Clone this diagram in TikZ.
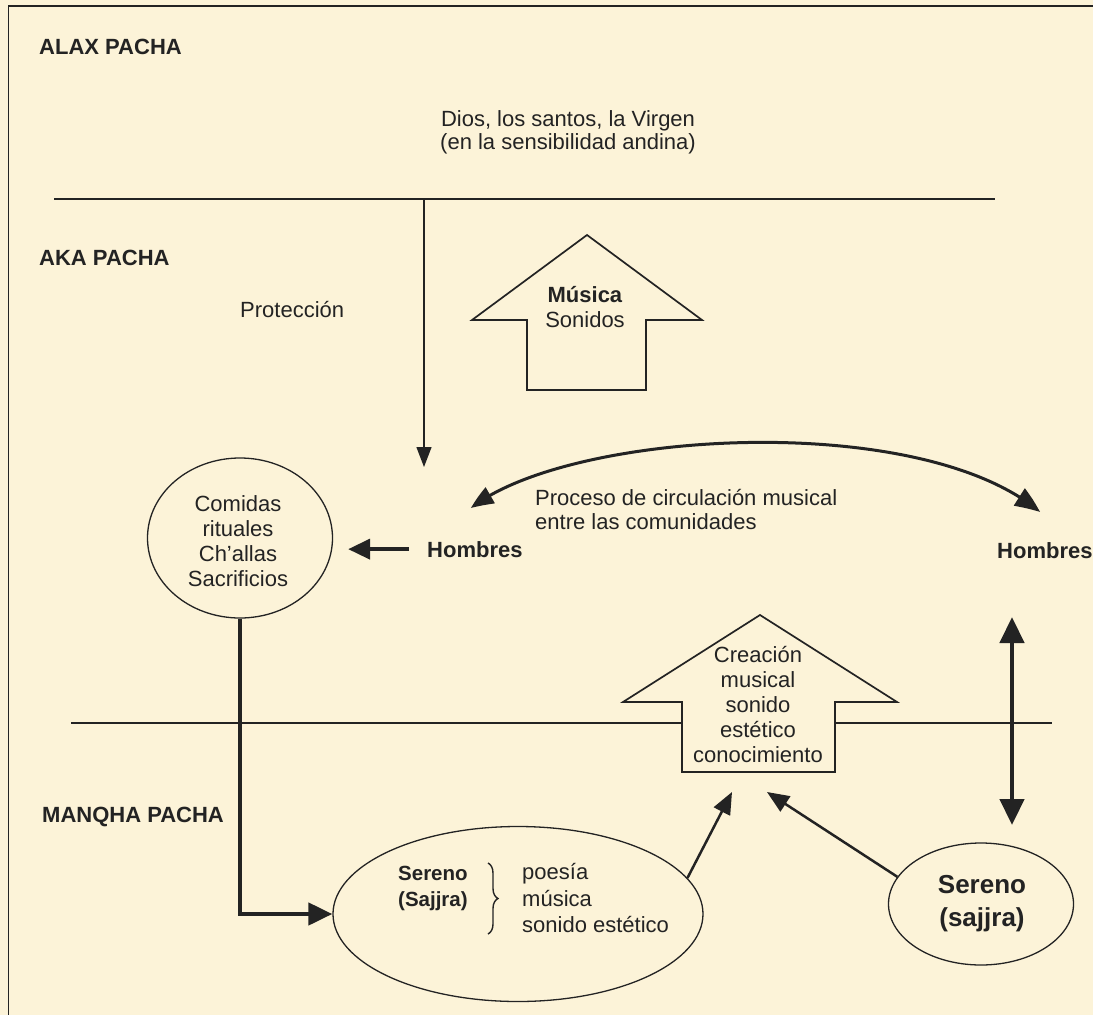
\documentclass[tikz,border=0pt]{standalone}
\usepackage{fontspec}
\setmainfont{Liberation Sans}
\usetikzlibrary{arrows.meta,bending,shapes.geometric,decorations.pathreplacing,calc}
\definecolor{bg}{RGB}{252,243,216}
\definecolor{ink}{RGB}{35,35,35}
\begin{document}
\begin{tikzpicture}[x=1pt,y=-1pt,
  txt/.style={inner sep=0pt, text=ink, font=\fontsize{22}{25}\selectfont},
  btxt/.style={txt, font=\fontsize{22}{25}\selectfont\bfseries},
  rule/.style={draw=ink, line width=1.3pt},
  oval/.style={ellipse, draw=ink, line width=1.3pt, inner sep=0pt},
  bigarrow/.style={draw=ink, line width=4.5pt, -{Triangle[length=24pt,width=22pt]}},
  thinarrow/.style={draw=ink, line width=1.3pt, -{Triangle[length=20pt,width=15pt]}},
  medarrow/.style={draw=ink, line width=2.5pt, -{Triangle[length=22pt,width=18pt]}},
  housearrow/.style={draw=ink, line width=1.7pt, fill=bg, line join=miter}
]
\useasboundingbox (0,0) rectangle (1093,1015);
\fill[bg] (0,0) rectangle (1093,1015);

% frame
\draw[ink, line width=1.6pt] (1093,6) -- (8.5,6) -- (8.5,1015);

% level lines
\draw[rule] (54,199) -- (995,199);
\draw[rule] (71,723) -- (1052,723);

% level titles
\node[btxt, anchor=base west] (alax) at (39,54) {ALAX PACHA};
\node[btxt, anchor=base west] (aka) at (39,265) {AKA PACHA};
\node[btxt, anchor=base west] (manqha) at (42,822) {MANQHA PACHA};

% top text
\node[txt, font=\fontsize{22}{23}\selectfont, align=center] (dios) at (568,133)
  {\strut Dios, los santos, la Virgen\\\strut(en la sensibilidad andina)};

\node[txt, anchor=base west] (prot) at (240,317) {Protección};

% Musica house arrow
\draw[housearrow] (527,390) -- (527,320) -- (472,320) -- (587,235) -- (702,320)
  -- (646,320) -- (646,390) -- cycle;
\node[txt, align=center] (musica) at (585,310)
  {\strut\textbf{Música}\\\strut Sonidos};

% Creacion house arrow
\draw[housearrow] (682,772) -- (682,702) -- (623,702) -- (760,615) -- (897,702)
  -- (835,702) -- (835,772) -- cycle;
\node[txt, align=center] (crea) at (758,707)
  {\strut Creación\\\strut musical\\\strut sonido\\\strut estético\\\strut conocimiento};

% Hombres
\node[btxt, anchor=base west] (hom1) at (427,557) {Hombres};
\node[btxt, anchor=base west] (hom2) at (997,558) {Hombres};

% Proceso text
\node[txt, font=\fontsize{22}{24}\selectfont, align=left, anchor=west] (proc) at (535,513)
  {\strut Proceso de circulación musical\\\strut entre las comunidades};

% Comidas ellipse
\node[oval, minimum width=185pt, minimum height=160pt] (comidas) at (240,538) {};
\node[txt, align=center] (comT) at (238,544)
  {\strut Comidas\\\strut rituales\\\strut Ch’allas\\\strut Sacrificios};

% Sereno big ellipse
\node[oval, minimum width=370pt, minimum height=175pt] (serA) at (518,914) {};
\node[txt, font=\fontsize{20.5}{26}\selectfont\bfseries, align=left, anchor=west] (serAT) at (398,888)
  {\strut Sereno\\\strut (Sajjra)};
\draw[ink, line width=1.4pt, decorate, decoration={brace, amplitude=10pt}] (488,863) -- (488,934);
\node[txt, font=\fontsize{22}{26.5}\selectfont, align=left, anchor=west] (poes) at (522,901)
  {\strut poesía\\\strut música\\\strut sonido estético};

% Sereno small ellipse
\node[oval, minimum width=185pt, minimum height=122pt] (serB) at (981,904) {};
\node[txt, font=\fontsize{26}{33}\selectfont\bfseries, align=center] (serBT) at (982,903)
  {\strut Sereno\\\strut (sajjra)};

% coordinates
\coordinate (pTop) at (424,199);
\coordinate (pTip) at (424,467);
\coordinate (cL) at (471,508);
\coordinate (cR) at (1040,512);
\coordinate (dTop) at (1012,617);
\coordinate (dBot) at (1012,825);
\coordinate (tA) at (732,792);
\coordinate (tB) at (767,792);

% connectors
\draw[thinarrow] (pTop) -- (pTip);
\draw[bigarrow, line width=4pt, -{Triangle[length=22pt,width=20pt]}, shorten <=18pt, shorten >=15pt]
  (hom1.west) -- (comidas.east |- hom1.west);
\draw[bigarrow, line join=miter] (comidas.south) -- (comidas.south |- serA.west) -- (serA.west);
\draw[draw=ink, line width=3pt, {Triangle[length=22pt,width=18pt,bend]}-{Triangle[length=25pt,width=20pt,bend]}]
  (cL) .. controls (570,430) and (920,410) .. (cR);
\draw[draw=ink, line width=4.5pt, {Triangle[length=26pt,width=24pt]}-{Triangle[length=26pt,width=24pt]}]
  (dTop) -- (dBot);
\draw[medarrow] (serA.12) -- (tA);
\draw[medarrow] (serB.162) -- (tB);
\end{tikzpicture}
\end{document}
